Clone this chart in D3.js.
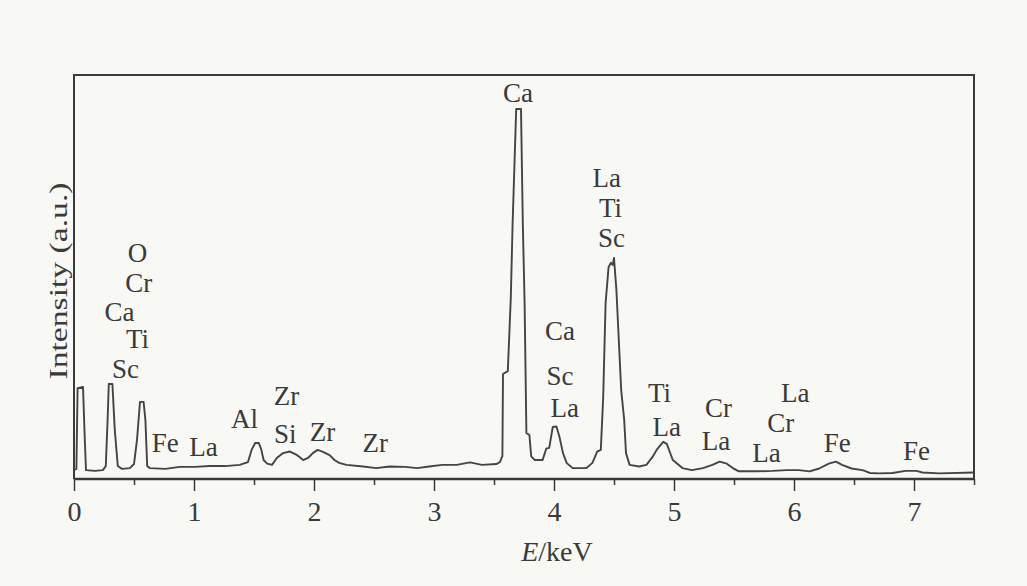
<!DOCTYPE html>
<html>
<head>
<meta charset="utf-8">
<script src="https://cdn.jsdelivr.net/npm/d3@7/dist/d3.min.js"></script>
<style>
  html, body { margin: 0; padding: 0; background: #f8f8f5; }
  svg { display: block; }
</style>
</head>
<body>
<svg id="chart" width="1027" height="586"></svg>
<script>
// ---- data ----
const energy = [
  0.00, 0.02, 0.03, 0.075, 0.09, 0.10, 0.175, 0.24, 0.265, 0.28, 0.29, 0.32, 0.34, 0.365, 0.40,
  0.465, 0.50, 0.525, 0.55, 0.58, 0.595, 0.61, 0.63, 0.76, 0.88, 1.01, 1.13, 1.26, 1.38, 1.45,
  1.48, 1.51, 1.54, 1.56, 1.58, 1.61, 1.65, 1.69, 1.74, 1.80, 1.86, 1.91, 1.95, 1.99, 2.03,
  2.07, 2.13, 2.17, 2.21, 2.27, 2.41, 2.52, 2.63, 2.76, 2.86, 2.96, 3.07, 3.19, 3.30, 3.40,
  3.52, 3.55, 3.57, 3.575, 3.615, 3.64, 3.655, 3.685, 3.725, 3.74, 3.755, 3.77, 3.795, 3.81, 3.84,
  3.905, 3.935, 3.96, 3.99, 4.02, 4.045, 4.075, 4.105, 4.155, 4.27, 4.32, 4.36, 4.39, 4.41, 4.43,
  4.455, 4.475, 4.49, 4.50, 4.52, 4.56, 4.585, 4.60, 4.63, 4.71, 4.77, 4.82, 4.86, 4.91, 4.94,
  4.99, 5.07, 5.15, 5.24, 5.32, 5.38, 5.44, 5.49, 5.54, 5.69, 5.82, 5.94, 6.04, 6.13, 6.21,
  6.29, 6.35, 6.40, 6.48, 6.57, 6.60, 6.63, 6.71, 6.82, 6.93, 7.02, 7.07, 7.21, 7.50
];
const intensity = [
  2.2, 2.5, 22.5, 22.8, 9.7, 2.2, 2.0, 2.2, 3.2, 14.6, 23.5, 23.5, 12.1, 3.2, 2.5,
  2.7, 3.7, 9.7, 19.1, 19.1, 14.6, 3.2, 2.7, 2.5, 3.0, 3.0, 3.2, 3.2, 3.5, 4.2,
  7.2, 8.9, 8.9, 7.4, 4.7, 3.8, 3.5, 5.2, 6.4, 6.8, 5.9, 4.7, 5.2, 6.4, 7.2,
  6.8, 5.9, 4.7, 4.0, 3.5, 3.1, 2.7, 3.1, 3.0, 2.7, 3.1, 3.5, 3.5, 4.1, 3.5,
  3.7, 4.2, 5.7, 26.0, 26.7, 44.8, 63.1, 91.6, 91.6, 63.4, 43.6, 11.4, 10.9, 5.6, 4.7,
  4.7, 7.5, 7.7, 12.9, 13.0, 10.5, 6.4, 4.0, 2.7, 2.7, 4.0, 6.8, 7.2, 20.3, 43.6,
  52.5, 53.5, 53.0, 54.7, 46.8, 22.0, 14.6, 6.4, 3.5, 3.1, 3.5, 5.4, 7.4, 9.2, 8.7,
  4.7, 2.7, 2.2, 2.7, 3.5, 4.3, 3.8, 2.7, 1.9, 1.9, 2.0, 2.2, 2.2, 1.9, 2.6,
  3.8, 4.3, 3.5, 2.6, 2.2, 1.9, 1.5, 1.4, 1.5, 2.0, 2.0, 1.6, 1.4, 1.6
];

// peak labels: element, energy (keV) and baseline level (intensity units)
const labelText   = ["O", "Cr", "Ca", "Ti", "Sc", "Fe", "La", "Al", "Zr", "Si", "Zr", "Zr",
                     "Ca", "Ca", "Sc", "La", "La", "Ti", "Sc", "Ti", "La", "Cr", "La",
                     "La", "Cr", "La", "Fe", "Fe"];
const labelEnergy = [0.53, 0.54, 0.38, 0.53, 0.43, 0.76, 1.08, 1.42, 1.77, 1.76, 2.07, 2.51,
                     3.70, 4.05, 4.05, 4.09, 4.44, 4.47, 4.48, 4.88, 4.94, 5.37, 5.35,
                     6.01, 5.89, 5.77, 6.36, 7.02];
const labelLevel  = [53.7, 46.3, 39.1, 32.4, 25.0, 6.7, 5.7, 12.6, 18.3, 8.9, 9.4, 6.7,
                     93.3, 34.4, 23.3, 15.3, 72.3, 64.9, 57.4, 19.1, 10.6, 15.3, 7.2,
                     19.1, 11.6, 4.2, 6.7, 4.7];

const xMajorTicks = [0, 1, 2, 3, 4, 5, 6, 7];
const xMinorTicks = [0.5, 1.5, 2.5, 3.5, 4.5, 5.5, 6.5, 7.5];
const xDomain = [0, 7.5];
const yDomain = [0, 100];

// ---- layout ----
const margin = { left: 74, right: 1027 - 974, top: 75, bottom: 586 - 479 };
const W = 1027, H = 586;
const svg = d3.select("#chart");
const ink = "#3a3a3a";
const font = "'Liberation Serif', 'Times New Roman', serif";

svg.append("rect").attr("width", W).attr("height", H).attr("fill", "#f8f8f5");

const x = d3.scaleLinear().domain(xDomain).range([margin.left, W - margin.right]);
const y = d3.scaleLinear().domain(yDomain).range([H - margin.bottom, margin.top]);

// frame (left, top, right)
svg.append("path")
  .attr("d", `M${x(0)},${y(0)} V${y(100)} H${x(7.5)} V${y(0)}`)
  .attr("fill", "none").attr("stroke", ink).attr("stroke-width", 2);

// bottom axis: minor ticks
const minorAxis = svg.append("g")
  .attr("transform", `translate(0,${y(0)})`)
  .call(d3.axisBottom(x).tickValues(xMinorTicks).tickSize(6).tickFormat(""));
minorAxis.select(".domain").remove();
minorAxis.selectAll("line").attr("stroke", ink).attr("stroke-width", 1.5);

// bottom axis: major ticks
const majorAxis = svg.append("g")
  .attr("transform", `translate(0,${y(0)})`)
  .call(d3.axisBottom(x).tickValues(xMajorTicks).tickSize(12).tickPadding(10).tickFormat(d3.format("d")));
majorAxis.select(".domain").attr("stroke", ink).attr("stroke-width", 2.5)
  .attr("d", `M${x(0)},0H${x(7.5)}`);
majorAxis.selectAll("line").attr("stroke", ink).attr("stroke-width", 1.5);
majorAxis.selectAll("text")
  .attr("font-family", font).attr("font-size", 28).attr("fill", ink);

// spectrum
const line = d3.line().x((d, i) => x(energy[i])).y((d, i) => y(intensity[i]));
svg.append("path")
  .datum(intensity)
  .attr("d", line)
  .attr("fill", "none")
  .attr("stroke", "#444")
  .attr("stroke-width", 1.9)
  .attr("stroke-linejoin", "round");

// peak labels
svg.append("g").selectAll("text")
  .data(labelText)
  .join("text")
  .attr("x", (d, i) => x(labelEnergy[i]))
  .attr("y", (d, i) => y(labelLevel[i]))
  .attr("text-anchor", "middle")
  .attr("font-family", font)
  .attr("font-size", 27)
  .attr("fill", ink)
  .text(d => d);

// x-axis title
const xt = svg.append("text")
  .attr("x", 557).attr("y", 561)
  .attr("text-anchor", "middle")
  .attr("font-family", font).attr("font-size", 28).attr("fill", ink);
xt.append("tspan").attr("font-style", "italic").text("E");
xt.append("tspan").text("/keV");

// y-axis title
svg.append("text")
  .attr("transform", "translate(67,281) rotate(-90)")
  .attr("text-anchor", "middle")
  .attr("font-family", font).attr("font-size", 26).attr("fill", ink)
  .attr("textLength", 197).attr("lengthAdjust", "spacingAndGlyphs")
  .text("Intensity (a.u.)");
</script>
</body>
</html>
